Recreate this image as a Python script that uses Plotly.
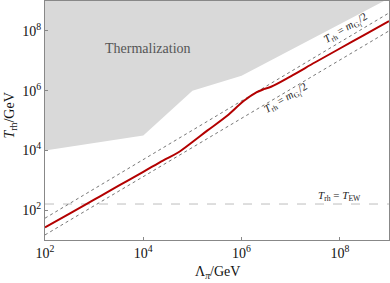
import plotly.graph_objects as go

# Red curve: T_rh vs Lambda_pi (GeV)
lam = [1e2, 3.16e2, 1e3, 3.16e3, 1e4, 2.51e4, 5.01e4, 1e5, 2.0e5, 5.01e5,
       1.12e6, 2.0e6, 2.82e6, 3.98e6, 1e7, 3.16e7, 1e8, 3.16e8, 1e9]
trh = [26.3, 75.9, 224, 661, 1905, 4571, 8318, 1.905e4, 4.57e4, 1.41e5,
       4.57e5, 8.71e5, 1.12e6, 1.35e6, 3.02e6, 8.91e6, 2.57e7, 7.41e7, 2.14e8]

# dotted reference lines T_rh = m_G/2
ref_x = [1e2, 1e9]
ref_upper = [53.7, 3.98e8]
ref_lower = [14.8, 1.0e8]

# electroweak temperature
T_EW = 160

# thermalization region boundary
therm_x = [1e2, 1e4, 1e5, 1e6, 7.9e8, 1e9, 1e9, 1e2]
therm_y = [1e4, 3.16e4, 1e6, 3.16e6, 1e9, 1e9, 1e9, 1e9]

tickvals = [1e2, 1e4, 1e6, 1e8]
ticktext = ["10<sup>2</sup>", "10<sup>4</sup>", "10<sup>6</sup>", "10<sup>8</sup>"]

FONT = "Liberation Serif"

fig = go.Figure()
fig.add_trace(go.Scatter(x=therm_x, y=therm_y, fill="toself", mode="none",
                         fillcolor="#d9d9d9", hoverinfo="skip"))
fig.add_trace(go.Scatter(x=[1e2, 1e9], y=[T_EW, T_EW], mode="lines",
                         line=dict(color="#bdbdbd", width=1, dash="dash")))
fig.add_trace(go.Scatter(x=ref_x, y=ref_upper, mode="lines",
                         line=dict(color="#777777", width=1, dash="dot")))
fig.add_trace(go.Scatter(x=ref_x, y=ref_lower, mode="lines",
                         line=dict(color="#777777", width=1, dash="dot")))
fig.add_trace(go.Scatter(x=lam, y=trh, mode="lines", line_shape="spline",
                         line=dict(color="#b30000", width=2)))

axis_common = dict(type="log", showgrid=False, zeroline=False, ticks="inside",
                   ticklen=3, tickcolor="#888888", showline=True, linecolor="#888888",
                   linewidth=1, mirror=True, tickvals=tickvals, ticktext=ticktext,
                   automargin=False,
                   tickfont=dict(family=FONT, size=14, color="#111111"))

fig.update_layout(
    width=390, height=283, showlegend=False,
    margin=dict(l=45, r=1, t=1, b=43),
    paper_bgcolor="white", plot_bgcolor="white",
    xaxis=dict(range=[2, 9], **axis_common),
    yaxis=dict(range=[1, 9], **axis_common),
    font=dict(family=FONT),
    annotations=[
        dict(x=4.1, y=7.4, xref="x", yref="y", text="Thermalization", showarrow=False,
             font=dict(family=FONT, size=14, color="#555555")),
        dict(x=8.13, y=8.07, xref="x", yref="y", textangle=-31, showarrow=False,
             text="<i>T</i><sub>rh</sub> = <i>m</i><sub>G<sub>I</sub></sub>/2",
             font=dict(family=FONT, size=11, color="#222222")),
        dict(x=6.91, y=5.73, xref="x", yref="y", textangle=-31, showarrow=False,
             text="<i>T</i><sub>rh</sub> = <i>m</i><sub>G<sub>I</sub></sub>/2",
             font=dict(family=FONT, size=11, color="#222222")),
        dict(x=8.0, y=2.47, xref="x", yref="y", showarrow=False,
             text="<i>T</i><sub>rh</sub> = <i>T</i><sub>EW</sub>",
             font=dict(family=FONT, size=11, color="#222222")),
        dict(x=0.5, y=-0.135, xref="paper", yref="paper", yanchor="middle", showarrow=False,
             text="Λ<sub><i>π</i></sub>/GeV",
             font=dict(family=FONT, size=14, color="#111111")),
        dict(x=-0.13, y=0.52, xref="paper", yref="paper", textangle=-90, showarrow=False,
             text="<i>T</i><sub>rh</sub>/GeV",
             font=dict(family=FONT, size=14, color="#111111")),
    ],
)

fig.write_html("out.html", config={"displayModeBar": False},
               post_script="document.body.style.margin='0';document.body.style.overflow='hidden';")
